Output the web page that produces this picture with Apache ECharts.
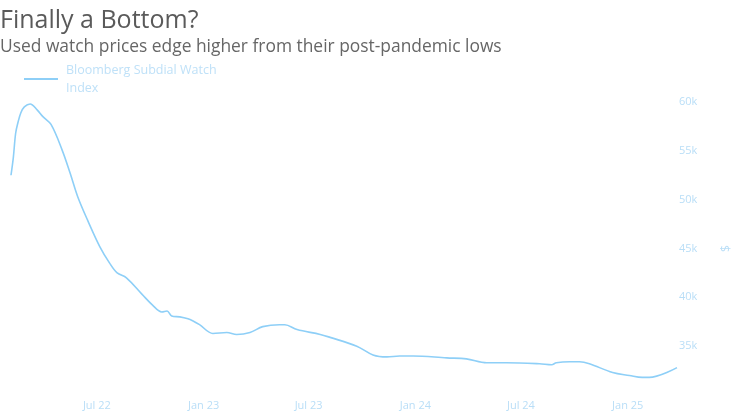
<!DOCTYPE html>
<html>
<head>
<meta charset="utf-8">
<script src="https://cdn.jsdelivr.net/npm/echarts@6/dist/echarts.min.js"></script>
<style>
html,body{margin:0;padding:0;background:#fff;}
#c{width:733px;height:419px;}
</style>
</head>
<body>
<div id="c"></div>
<script>
var seriesName = 'Bloomberg Subdial Watch Index';
var dates = [
 '2022-02-03','2022-02-07','2022-02-11','2022-02-15','2022-02-20','2022-02-26','2022-03-08','2022-03-20','2022-03-30',
 '2022-04-13','2022-05-02','2022-05-16','2022-05-29','2022-06-15','2022-07-06','2022-07-23','2022-08-05','2022-08-21',
 '2022-09-17','2022-10-05','2022-10-21','2022-10-30','2022-11-07','2022-11-21','2022-12-05','2022-12-13','2022-12-25',
 '2023-01-17','2023-02-10','2023-02-27','2023-03-22','2023-04-13','2023-05-12','2023-05-21','2023-06-11','2023-07-21',
 '2023-08-07','2023-09-22','2023-10-20','2023-11-13','2023-12-05','2023-12-28','2024-02-24','2024-03-29','2024-05-03',
 '2024-06-06','2024-08-02','2024-08-23','2024-08-31','2024-09-23','2024-10-10','2024-10-27','2024-12-06','2025-01-04',
 '2025-01-26','2025-02-07','2025-03-27'
];
var values = [
 52500,54300,56800,57900,58900,59500,59800,59200,58500,
 57700,55100,52700,50300,47900,45200,43500,42500,42000,
 40300,39200,38500,38600,38100,38000,37800,37600,37200,
 36300,36400,36200,36400,37000,37200,37200,36700,36200,
 35900,35000,34100,33900,34000,34000,33800,33700,33300,
 33300,33200,33100,33300,33400,33400,33200,32300,32000,
 31800,31800,32800
];
var tickDates = ['2022-07-01','2023-01-01','2023-07-01','2024-01-01','2024-07-01','2025-01-01'];
var tickLabels = ['Jul 22','Jan 23','Jul 23','Jan 24','Jul 24','Jan 25'];

function ts(d){return Date.UTC(+d.slice(0,4), +d.slice(5,7)-1, +d.slice(8,10));}
var tickTs = tickDates.map(ts);
var data = dates.map(function(d,i){return [ts(d), values[i]];});
var lineColor = '#8ecff7';
var axisText = '#b9def7';

var chart = echarts.init(document.getElementById('c'), null, {renderer:'canvas'});
chart.setOption({
  animation:false,
  backgroundColor:'#fff',
  title:{
    text:'Finally a Bottom?',
    subtext:'Used watch prices edge higher from their post-pandemic lows',
    left:-5, top:3, itemGap:6,
    textStyle:{fontFamily:'Open Sans', fontSize:25, fontWeight:'normal', color:'#5a5a5a'},
    subtextStyle:{fontFamily:'Open Sans', fontSize:17.4, color:'#666'}
  },
  legend:{
    left:19, top:56,
    icon:'rect', itemWidth:34, itemHeight:2, itemGap:10,
    formatter:function(){return 'Bloomberg Subdial Watch\nIndex';},
    textStyle:{fontFamily:'Open Sans', fontSize:12.5, color:'#bfe1f8', lineHeight:18, padding:[0,0,0,3]},
    data:[seriesName]
  },
  grid:{left:11, right:56, top:102, bottom:24, containLabel:false, outerBoundsMode:'none'},
  xAxis:{
    type:'value',
    min:data[0][0], max:data[data.length-1][0],
    axisLine:{show:false}, axisTick:{show:false}, splitLine:{show:false},
    axisLabel:{
      customValues:tickTs,
      formatter:function(v){var i=tickTs.indexOf(v);return i>=0?tickLabels[i]:'';},
      color:axisText, fontFamily:'Open Sans', fontSize:11, margin:5
    }
  },
  yAxis:{
    type:'value', position:'right',
    min:30000, max:60000, interval:5000,
    axisLine:{show:false}, axisTick:{show:false}, splitLine:{show:false},
    axisLabel:{
      showMinLabel:false,
      formatter:function(v){return v===30000?'':(v/1000)+'k';},
      color:axisText, fontFamily:'Open Sans', fontSize:11, margin:2
    },
    name:'$', nameLocation:'middle', nameGap:44,
    nameTextStyle:{color:axisText, fontFamily:'Open Sans', fontSize:12}
  },
  series:[{
    name:seriesName, type:'line', data:data,
    symbol:'none', smooth:0.35,
    lineStyle:{color:lineColor, width:1.6},
    itemStyle:{color:lineColor}
  }]
});
</script>
</body>
</html>
